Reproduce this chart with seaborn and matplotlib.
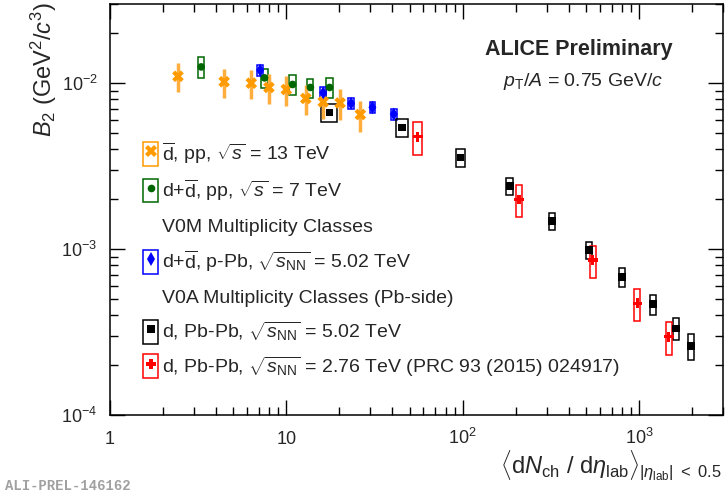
import numpy as np
import pandas as pd
import matplotlib
matplotlib.use("Agg")
import matplotlib.pyplot as plt
from matplotlib.patches import Rectangle
from matplotlib.lines import Line2D
from matplotlib.legend_handler import HandlerTuple
from matplotlib.ticker import LogLocator, NullFormatter
import seaborn as sns

# anti-deuteron, pp 13 TeV (stat+syst bars, relative)
pp13_x = [2.43, 4.44, 6.33, 7.97, 10.0, 12.9, 16.2, 20.2, 26.3]
pp13_y = [0.0110, 0.0102, 0.0100, 0.00942, 0.00916, 0.00809, 0.00771, 0.00760, 0.00647]
pp13_err = [0.20, 0.20, 0.20, 0.21, 0.21, 0.20, 0.21, 0.21, 0.21]

# d + anti-d, pp 7 TeV
pp7_x = [3.29, 7.53, 10.86, 13.7, 17.6]
pp7_y = [0.01253, 0.01076, 0.00982, 0.00942, 0.00942]
pp7_sys = [0.14, 0.13, 0.14, 0.13, 0.14]
pp7_xerr = [0.04, 0.04, 0.04, 0.04, 0.04]

# d + anti-d, p-Pb 5.02 TeV
ppb_x = [7.11, 16.2, 23.3, 30.8, 40.7]
ppb_y = [0.01197, 0.00875, 0.00755, 0.00714, 0.00650]
ppb_sys = [0.08, 0.08, 0.08, 0.08, 0.08]
ppb_xerr = [0.037, 0.037, 0.037, 0.037, 0.037]

# d, Pb-Pb 5.02 TeV
pbpb502_x = [17.6, 45.4, 97.4, 185.7, 321.5, 520, 804, 1205, 1623, 1982]
pbpb502_y = [0.00666, 0.00540, 0.00357, 0.00240, 0.00148, 0.000986, 0.000681, 0.000467, 0.000333, 0.000260]
pbpb502_sys = [0.12, 0.12, 0.13, 0.12, 0.12, 0.12, 0.13, 0.14, 0.15, 0.18]
pbpb502_xerr = [0.105, 0.08, 0.06, 0.045, 0.04, 0.04, 0.04, 0.04, 0.04, 0.04]

# d, Pb-Pb 2.76 TeV (PRC 93 (2015) 024917)
pbpb276_x = [55.7, 209, 548, 982, 1476]
pbpb276_y = [0.00475, 0.00199, 0.00086, 0.000471, 0.000296]
pbpb276_sys = [0.22, 0.22, 0.22, 0.22, 0.22]
pbpb276_xerr = [0.06, 0.045, 0.04, 0.04, 0.04]

series_names = ["pp13", "pp7", "ppb", "pbpb502", "pbpb276"]
colors = {"pp13": "#FF9A00", "pp7": "#006600", "ppb": "#0000FF",
          "pbpb502": "#000000", "pbpb276": "#FF0000"}
markers = {"pp13": "X", "pp7": "o", "ppb": "d", "pbpb502": "s", "pbpb276": "P"}
sizes = {"pp13": 70, "pp7": 30, "ppb": 45, "pbpb502": 30, "pbpb276": 50}

legend_labels = [
    r"$\overline{\mathrm{d}}$, pp, $\sqrt{s}$ = 13 TeV",
    r"d+$\overline{\mathrm{d}}$, pp, $\sqrt{s}$ = 7 TeV",
    "V0M Multiplicity Classes",
    r"d+$\overline{\mathrm{d}}$, p-Pb, $\sqrt{s_{\mathrm{NN}}}$ = 5.02 TeV",
    "V0A Multiplicity Classes (Pb-side)",
    r"d, Pb-Pb, $\sqrt{s_{\mathrm{NN}}}$ = 5.02 TeV",
    r"d, Pb-Pb, $\sqrt{s_{\mathrm{NN}}}$ = 2.76 TeV (PRC 93 (2015) 024917)",
]

df = pd.concat([
    pd.DataFrame({"x": pp13_x, "y": pp13_y, "series": "pp13"}),
    pd.DataFrame({"x": pp7_x, "y": pp7_y, "series": "pp7"}),
    pd.DataFrame({"x": ppb_x, "y": ppb_y, "series": "ppb"}),
    pd.DataFrame({"x": pbpb502_x, "y": pbpb502_y, "series": "pbpb502"}),
    pd.DataFrame({"x": pbpb276_x, "y": pbpb276_y, "series": "pbpb276"}),
], ignore_index=True)

sns.set_style("ticks")
plt.rcParams["font.family"] = ["Liberation Sans", "DejaVu Sans"]
plt.rcParams["mathtext.fontset"] = "custom"
plt.rcParams["mathtext.rm"] = "Liberation Sans"
plt.rcParams["mathtext.it"] = "Liberation Sans:italic"
plt.rcParams["mathtext.bf"] = "Liberation Sans:bold"

fig = plt.figure(figsize=(7.26, 4.95), dpi=100)
ax = fig.add_axes([110 / 726, 80 / 495, 613 / 726, 411 / 495])


def add_boxes(xs, ys, rel_y, rel_x, color):
    for x, y, ey, ex in zip(xs, ys, rel_y, rel_x):
        ax.add_patch(Rectangle((x * (1 - ex), y * (1 - ey)), x * 2 * ex, y * 2 * ey,
                               facecolor="none", edgecolor=color, lw=1.1, zorder=2))


add_boxes(pp7_x, pp7_y, pp7_sys, pp7_xerr, colors["pp7"])
add_boxes(ppb_x, ppb_y, ppb_sys, ppb_xerr, colors["ppb"])
add_boxes(pbpb502_x, pbpb502_y, pbpb502_sys, pbpb502_xerr, colors["pbpb502"])
add_boxes(pbpb276_x, pbpb276_y, pbpb276_sys, pbpb276_xerr, colors["pbpb276"])

pp13_yerr = np.array(pp13_y) * np.array(pp13_err)
ax.errorbar(pp13_x, pp13_y, yerr=pp13_yerr, fmt="none", ecolor="#FFAE3D",
            elinewidth=2.5, capsize=0, zorder=2)

sns.scatterplot(data=df, x="x", y="y", hue="series", style="series", size="series",
                palette=colors, markers=markers, sizes=sizes, linewidth=0,
                legend=False, ax=ax, zorder=3)

ax.set_xscale("log")
ax.set_yscale("log")
ax.set_xlim(1, 3000)
ax.set_ylim(1e-4, 3e-2)
ax.set_xlabel("")
ax.set_ylabel("")

ax.set_xticks([1, 10, 100, 1000], labels=["1", "10", r"$10^{2}$", r"$10^{3}$"])
ax.set_yticks([1e-4, 1e-3, 1e-2], labels=[r"$10^{-4}$", r"$10^{-3}$", r"$10^{-2}$"])
ax.xaxis.set_minor_locator(LogLocator(base=10, subs=np.arange(2, 10)))
ax.yaxis.set_minor_locator(LogLocator(base=10, subs=np.arange(2, 10)))
ax.xaxis.set_minor_formatter(NullFormatter())
ax.yaxis.set_minor_formatter(NullFormatter())
ax.tick_params(which="both", direction="in", top=True, right=True, width=1, color="black")
ax.tick_params(which="major", length=11, labelsize=13)
ax.tick_params(which="minor", length=6)
ax.tick_params(axis="x", pad=21)
ax.tick_params(axis="y", pad=9)
for lbl in ax.get_xticklabels():
    lbl.set_va("baseline")
for sp in ax.spines.values():
    sp.set_linewidth(1.1)
    sp.set_color("black")

# legend
def entry(key, ms):
    box = Rectangle((0, 0), 1, 1, facecolor="none", edgecolor=colors[key], lw=1.1)
    mk = Line2D([], [], ls="none", marker=markers[key], color=colors[key],
                markeredgewidth=0, markersize=ms)
    return (box, mk)

blank = Line2D([], [], ls="none")
handles = [entry("pp13", 8), entry("pp7", 5.5), blank, entry("ppb", 7),
           blank, entry("pbpb502", 5.5), entry("pbpb276", 7.5)]
ax.legend(handles, legend_labels, handler_map={tuple: HandlerTuple(ndivide=1)},
          loc="upper left", bbox_to_anchor=(0.054, 0.668), frameon=False,
          fontsize=14, handlelength=0.77, handleheight=1.5, handletextpad=0.22,
          labelspacing=0.56, borderpad=0, borderaxespad=0)

ax.text(673 / 726, 1 - 50 / 495, "ALICE Preliminary", transform=fig.transFigure,
        ha="right", va="center", fontsize=15.5, fontweight="bold")
ax.text(663 / 726, 1 - 81 / 495, r"$p_{\mathrm{T}}/A$ = 0.75 GeV/$c$",
        transform=fig.transFigure, ha="right", va="center", fontsize=14)

fig.text(44 / 726, 1 - 2 / 495, r"$B_2$ (GeV$^2$/$c^3$)", rotation=90,
         ha="center", va="top", fontsize=17)
fig.text(722 / 726, 1 - 466 / 495,
         r"$\langle \mathrm{d}N_{\mathrm{ch}}\ /\ \mathrm{d}\eta_{\mathrm{lab}}\rangle_{|\eta_{\mathrm{lab}}|\ <\ 0.5}$",
         ha="right", va="center", fontsize=17)
fig.text(5 / 726, 1 - 486 / 495, "ALI-PREL-146162", family="Liberation Mono",
         fontweight="bold", color="#A0A0A0", fontsize=10, ha="left", va="center")

fig.savefig("out.png", dpi=100)
